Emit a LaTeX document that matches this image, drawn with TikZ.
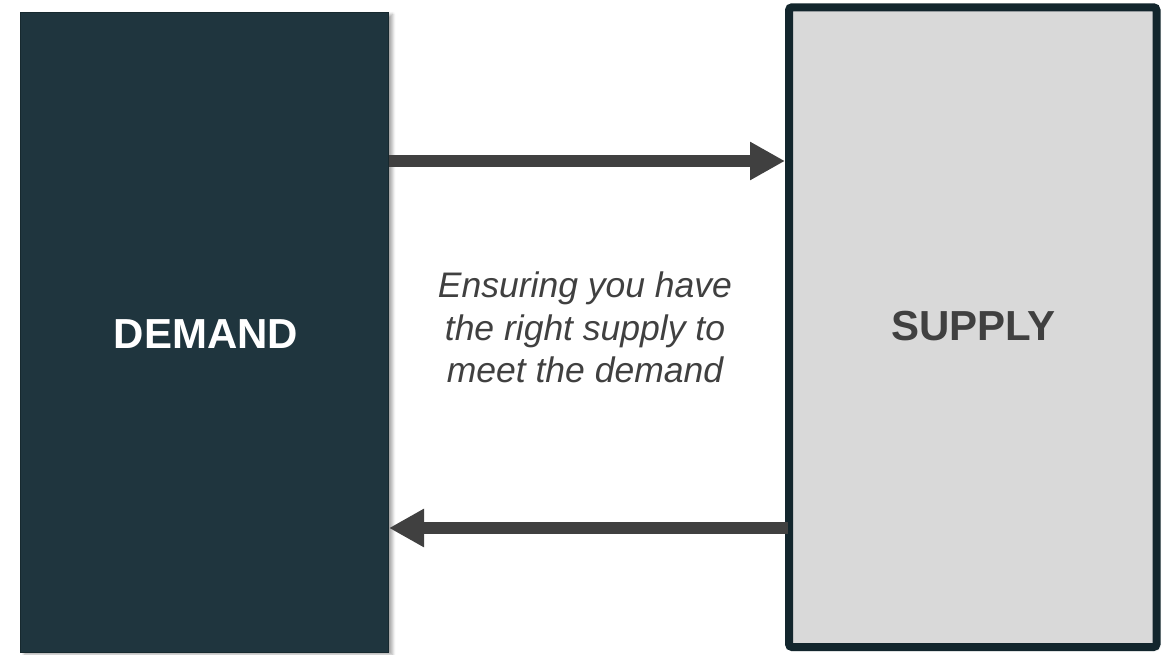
\documentclass[tikz,border=0pt]{standalone}
\usepackage{fontspec}
\setmainfont{Liberation Sans}
\usetikzlibrary{arrows.meta,shadows.blur}
\definecolor{demandfill}{HTML}{1F353E}
\definecolor{demandline}{HTML}{17292F}
\definecolor{supplyfill}{HTML}{D9D9D9}
\definecolor{supplyline}{HTML}{13262D}
\definecolor{arrowgray}{HTML}{404040}
\definecolor{textgray}{HTML}{404040}
\tikzset{
  demandbox/.style={draw=demandline, line width=1pt, fill=demandfill, minimum width=368pt, minimum height=640pt, inner sep=0pt,
    blur shadow={shadow xshift=4pt, shadow yshift=-2pt, shadow blur radius=3pt, shadow blur steps=6, shadow opacity=35}},
  supplybox/.style={draw=supplyline, line width=8pt, fill=supplyfill, rounded corners=3pt, minimum width=367.5pt, minimum height=639.7pt, inner sep=0pt,
    blur shadow={shadow xshift=2pt, shadow yshift=-2pt, shadow blur radius=3pt, shadow blur steps=6, shadow opacity=30}},
  boxlabel/.style={font=\fontsize{42}{50}\selectfont\bfseries, inner sep=0pt},
  flow/.style={draw=arrowgray, line width=12pt, -{Triangle[length=35pt,width=36pt]}},
  midtext/.style={align=center, text=textgray, font=\fontsize{35.5}{42.5}\selectfont\itshape, inner sep=0pt}
}
\begin{document}
\begin{tikzpicture}[x=1pt,y=-1pt]
\useasboundingbox (0,0) rectangle (1168,655);
\node[demandbox] (demand) at (204.5,332.5) {};
\node[supplybox] (supply) at (972.75,327.15) {};
\node[boxlabel, text=white] (demandlabel) at (206,334.5) {DEMAND};
\node[boxlabel, text=textgray] (supplylabel) at (973.5,326) {SUPPLY};
\node[midtext] (mid) at (585,327.5) {Ensuring you have\\the right supply to\\meet the demand};
\draw[flow] (demand.east |- 0,161) -- (supply.west |- 0,161);
\draw[flow] ([xshift=3pt]supply.west |- 0,528) -- (demand.east |- 0,528);
\end{tikzpicture}
\end{document}
